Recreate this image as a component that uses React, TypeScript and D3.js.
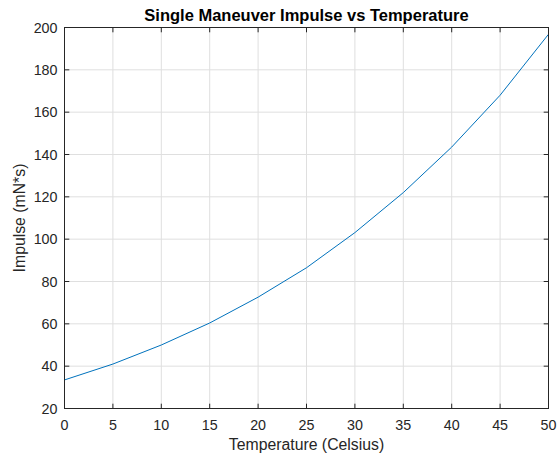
import React from "react";
import * as d3 from "d3";

const temperatures = [0, 5, 10, 15, 20, 25, 30, 35, 40, 45, 50];
const impulse = [33.5, 41, 50, 60.4, 72.6, 86.5, 103.1, 122, 143.5, 168, 196.8];
const xTicks = [0, 5, 10, 15, 20, 25, 30, 35, 40, 45, 50];
const yTicks = [20, 40, 60, 80, 100, 120, 140, 160, 180, 200];

const W = 559;
const H = 458;
const L = 64.5, R = 548.5, T = 27.5, B = 408.5;
const font = "'Liberation Sans', Arial, Helvetica, sans-serif";
const axisColor = "#262626";

export default function App() {
  const x = d3.scaleLinear().domain([0, 50]).range([L, R]);
  const y = d3.scaleLinear().domain([20, 200]).range([B, T]);
  const line = d3
    .line<number>()
    .x((_, i) => x(temperatures[i]))
    .y((d) => y(d));
  const tl = 4.8;
  return (
    <svg width={W} height={H} style={{ position: "absolute", left: 0, top: 0, background: "#fff" }}>
      <rect x={0} y={0} width={W} height={H} fill="#fff" />
      {xTicks.map((t) => (
        <line key={"gx" + t} x1={x(t)} x2={x(t)} y1={T} y2={B} stroke="#dfdfdf" strokeWidth={1} />
      ))}
      {yTicks.map((t) => (
        <line key={"gy" + t} x1={L} x2={R} y1={y(t)} y2={y(t)} stroke="#dfdfdf" strokeWidth={1} />
      ))}
      <path d={line(impulse) || ""} fill="none" stroke="#0072BD" strokeWidth={1} />
      <rect x={L} y={T} width={R - L} height={B - T} fill="none" stroke={axisColor} strokeWidth={1} />
      {xTicks.map((t) => (
        <g key={"tx" + t}>
          <line x1={x(t)} x2={x(t)} y1={B} y2={B - tl} stroke={axisColor} />
          <line x1={x(t)} x2={x(t)} y1={T} y2={T + tl} stroke={axisColor} />
          <text x={x(t)} y={430} textAnchor="middle" fontFamily={font} fontSize={14.3} fill={axisColor}>
            {t}
          </text>
        </g>
      ))}
      {yTicks.map((t) => (
        <g key={"ty" + t}>
          <line x1={L} x2={L + tl} y1={y(t)} y2={y(t)} stroke={axisColor} />
          <line x1={R} x2={R - tl} y1={y(t)} y2={y(t)} stroke={axisColor} />
          <text x={57.5} y={y(t) + 5} textAnchor="end" fontFamily={font} fontSize={14.3} fill={axisColor}>
            {t}
          </text>
        </g>
      ))}
      <text x={(L + R) / 2} y={21} textAnchor="middle" fontFamily={font} fontSize={16.5} fontWeight="bold" fill="#000">
        Single Maneuver Impulse vs Temperature
      </text>
      <text x={(L + R) / 2} y={450} textAnchor="middle" fontFamily={font} fontSize={15.8} fill={axisColor}>
        Temperature (Celsius)
      </text>
      <text
        transform={`translate(24.5,${(T + B) / 2}) rotate(-90)`}
        textAnchor="middle"
        fontFamily={font}
        fontSize={15.8}
        fill={axisColor}
      >
        Impulse (mN*s)
      </text>
    </svg>
  );
}
